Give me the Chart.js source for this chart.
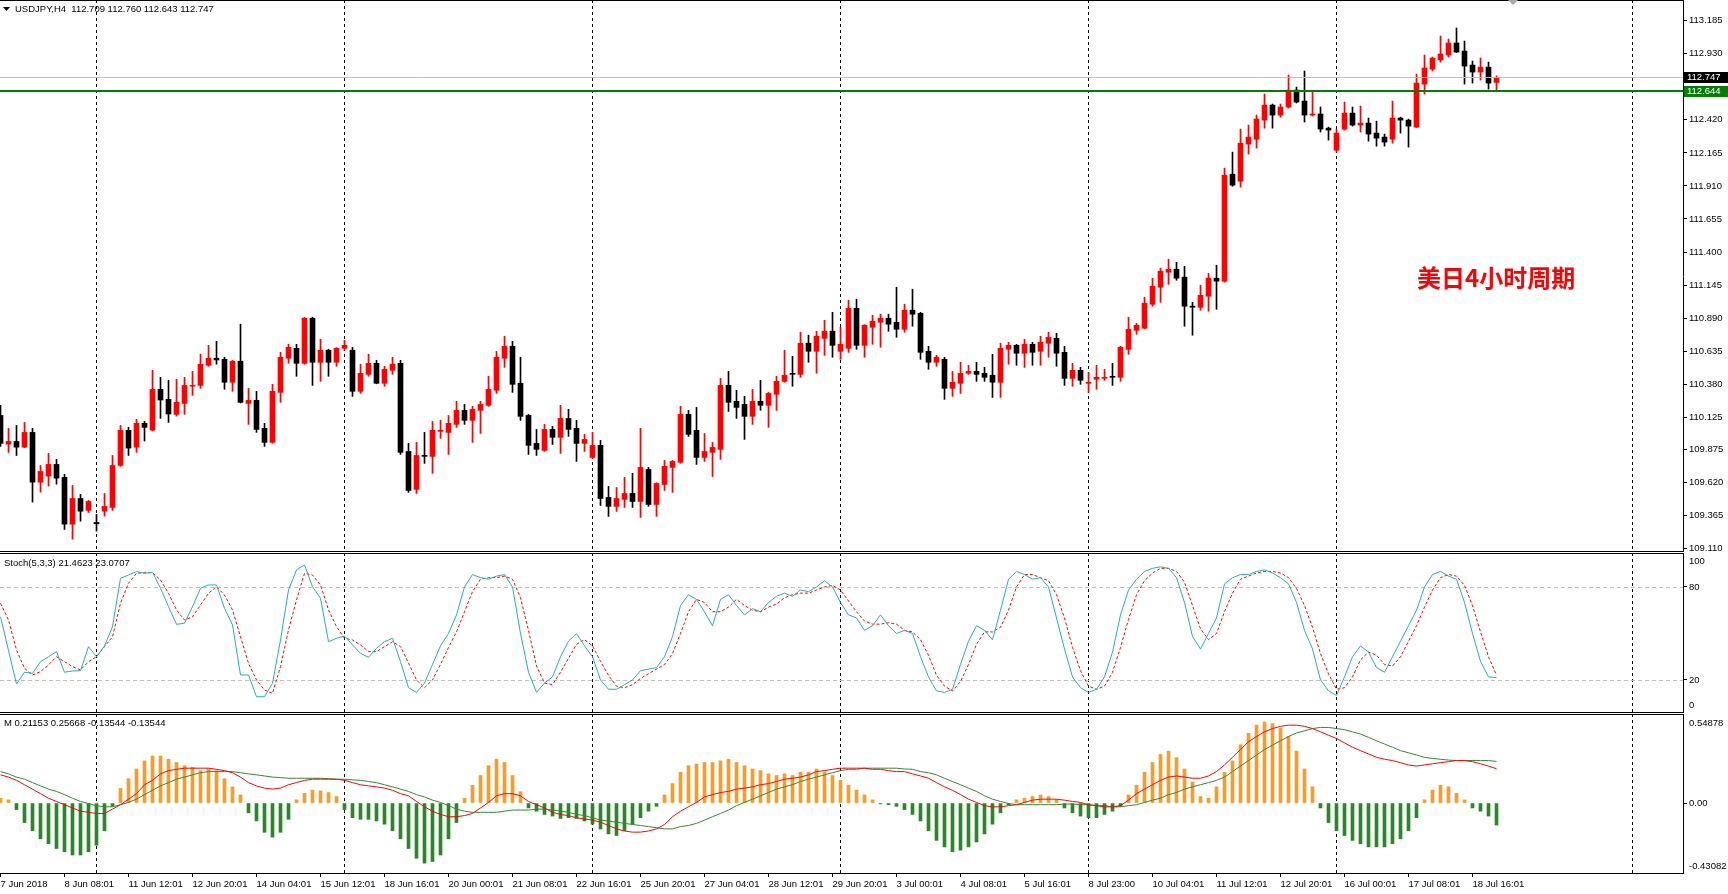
<!DOCTYPE html>
<html>
<head>
<meta charset="utf-8">
<script src="https://cdn.jsdelivr.net/npm/chart.js@4.4.1/dist/chart.umd.min.js"></script>
<style>
html, body { margin: 0; padding: 0; background: #fff; }
#wrap { position: relative; width: 1728px; height: 894px; overflow: hidden; background: #fff; }
#wrap canvas { position: absolute; left: 0; }
</style>
</head>
<body>
<div id="wrap">
  <canvas id="cMain" width="1728" height="552" style="top:0"></canvas>
  <canvas id="cStoch" width="1728" height="160" style="top:553px"></canvas>
  <canvas id="cMacd" width="1728" height="180" style="top:714px"></canvas>
</div>
<script>
// ---------------- DATA ----------------
const symbolTitle = "USDJPY,H4  112.709 112.760 112.643 112.747";
const noteText = "美日4小时周期";

const open = [
  110.139,109.918,109.938,109.894,110.008,109.624,109.671,109.761,109.661,109.300,
  109.498,109.406,109.313,109.400,109.429,109.753,110.024,109.894,110.078,110.026,
  110.340,110.263,110.147,110.232,110.364,110.371,110.526,110.580,110.572,110.395,
  110.557,110.232,110.255,110.039,109.931,110.317,110.580,110.657,110.541,110.889,
  110.549,110.642,110.549,110.657,110.642,110.325,110.456,110.541,110.387,110.487,
  110.541,109.861,109.568,109.830,109.823,110.016,110.008,110.070,110.178,110.101,
  110.178,110.217,110.333,110.580,110.673,110.387,110.139,109.923,109.869,110.031,
  109.970,110.116,110.039,109.923,109.815,109.908,109.506,109.437,109.491,109.537,
  109.475,109.722,109.452,109.606,109.738,109.777,110.147,110.024,109.815,109.854,
  109.877,110.371,110.248,110.224,110.132,110.248,110.217,110.302,110.402,110.464,
  110.456,110.696,110.634,110.734,110.789,110.634,110.657,110.966,110.680,110.819,
  110.858,110.889,110.858,110.804,110.951,110.927,110.634,110.549,110.572,110.348,
  110.387,110.464,110.479,110.464,110.449,110.395,110.650,110.680,110.619,110.688,
  110.634,110.696,110.734,110.626,110.425,110.487,110.387,110.418,110.425,110.441,
  110.433,110.649,110.796,110.812,110.997,111.128,111.244,111.267,111.206,110.982,
  110.974,111.059,111.198,111.175,112.001,111.947,112.233,112.271,112.418,112.534,
  112.457,112.519,112.650,112.565,112.457,112.465,112.356,112.186,112.349,112.472,
  112.380,112.395,112.318,112.287,112.271,112.434,112.418,112.364,112.696,112.812,
  112.882,112.920,113.013,112.951,112.843,112.789,112.827,112.709
];
const high = [
  110.217,110.039,110.062,110.085,110.039,109.753,109.846,109.800,109.684,109.599,
  109.529,109.483,109.375,109.537,109.830,110.062,110.047,110.109,110.093,110.487,
  110.433,110.410,110.418,110.433,110.479,110.611,110.680,110.711,110.588,110.564,
  110.843,110.348,110.325,110.078,110.379,110.626,110.688,110.688,110.895,110.897,
  110.727,110.650,110.662,110.719,110.665,110.534,110.611,110.564,110.518,110.588,
  110.564,109.923,109.931,110.008,110.093,110.101,110.139,110.248,110.224,110.209,
  110.248,110.441,110.634,110.750,110.711,110.588,110.147,110.031,110.070,110.054,
  110.217,110.186,110.101,109.993,110.008,109.946,109.591,109.583,109.661,109.692,
  110.039,109.738,109.620,109.792,109.792,110.209,110.178,110.201,110.000,109.931,
  110.425,110.479,110.333,110.286,110.340,110.410,110.317,110.441,110.642,110.595,
  110.781,110.758,110.789,110.873,110.935,110.819,111.028,111.036,110.840,110.912,
  110.920,110.920,111.128,110.997,111.113,110.935,110.672,110.603,110.588,110.479,
  110.549,110.526,110.549,110.510,110.611,110.696,110.703,110.688,110.727,110.703,
  110.750,110.781,110.773,110.672,110.541,110.510,110.472,110.526,110.495,110.541,
  110.673,110.897,110.850,111.051,111.198,111.275,111.345,111.321,111.290,111.012,
  111.144,111.236,111.298,112.047,112.171,112.349,112.380,112.457,112.619,112.542,
  112.542,112.766,112.673,112.797,112.634,112.519,112.364,112.349,112.557,112.519,
  112.526,112.434,112.410,112.310,112.565,112.441,112.426,112.773,112.920,112.905,
  113.067,113.044,113.129,113.028,112.874,112.897,112.866,112.760
];
const low = [
  109.900,109.854,109.830,109.890,109.470,109.547,109.594,109.609,109.259,109.184,
  109.323,109.390,109.246,109.362,109.406,109.746,109.830,109.854,109.941,110.020,
  110.116,110.085,110.134,110.147,110.294,110.348,110.518,110.534,110.341,110.325,
  110.235,110.070,110.008,109.900,109.925,110.240,110.541,110.441,110.534,110.371,
  110.402,110.441,110.518,110.642,110.286,110.309,110.441,110.383,110.364,110.456,
  109.838,109.545,109.537,109.769,109.692,109.962,109.838,110.047,110.070,109.931,
  110.000,110.209,110.309,110.510,110.317,110.101,109.838,109.830,109.862,109.915,
  109.846,109.977,109.784,109.861,109.807,109.444,109.360,109.398,109.429,109.429,
  109.352,109.437,109.360,109.560,109.545,109.770,109.977,109.761,109.784,109.668,
  109.800,110.170,110.116,109.954,110.070,110.178,110.047,110.178,110.395,110.364,
  110.433,110.549,110.464,110.603,110.588,110.572,110.626,110.649,110.588,110.688,
  110.665,110.788,110.742,110.781,110.827,110.572,110.495,110.518,110.263,110.286,
  110.309,110.456,110.402,110.402,110.278,110.278,110.534,110.526,110.510,110.526,
  110.526,110.588,110.518,110.371,110.364,110.379,110.317,110.341,110.410,110.371,
  110.402,110.611,110.765,110.807,110.982,111.012,111.151,111.182,110.827,110.758,
  110.951,110.943,110.958,111.167,111.908,111.901,112.156,112.202,112.356,112.356,
  112.441,112.511,112.550,112.403,112.450,112.326,112.264,112.171,112.341,112.372,
  112.326,112.256,112.217,112.217,112.240,112.318,112.210,112.360,112.619,112.797,
  112.866,112.905,112.940,112.696,112.704,112.727,112.658,112.643
];
const close = [
  109.923,109.938,109.894,110.008,109.624,109.707,109.761,109.655,109.300,109.498,
  109.400,109.475,109.303,109.437,109.753,110.024,109.887,110.078,110.047,110.340,
  110.258,110.150,110.240,110.371,110.371,110.534,110.580,110.567,110.395,110.557,
  110.240,110.255,110.031,109.931,110.325,110.588,110.665,110.541,110.889,110.549,
  110.642,110.549,110.657,110.680,110.325,110.464,110.541,110.387,110.495,110.534,
  109.854,109.560,109.830,109.823,110.024,110.024,110.078,110.178,110.101,110.186,
  110.224,110.340,110.588,110.673,110.379,110.132,109.908,109.877,110.031,109.970,
  110.116,110.031,109.923,109.954,109.908,109.498,109.437,109.498,109.537,109.475,
  109.738,109.452,109.614,109.746,109.784,110.147,109.993,109.815,109.861,109.892,
  110.371,110.240,110.201,110.132,110.248,110.217,110.309,110.402,110.449,110.456,
  110.696,110.634,110.750,110.789,110.680,110.688,110.966,110.680,110.835,110.866,
  110.889,110.843,110.804,110.951,110.920,110.626,110.549,110.588,110.348,110.395,
  110.464,110.479,110.456,110.433,110.395,110.657,110.680,110.619,110.688,110.626,
  110.703,110.742,110.619,110.425,110.487,110.410,110.395,110.433,110.433,110.433,
  110.665,110.804,110.835,111.005,111.136,111.252,111.267,111.198,110.982,110.974,
  111.066,111.198,111.175,111.993,111.916,112.240,112.287,112.426,112.534,112.457,
  112.519,112.650,112.557,112.457,112.465,112.349,112.341,112.318,112.472,112.380,
  112.395,112.310,112.279,112.248,112.434,112.418,112.372,112.704,112.820,112.897,
  112.928,113.013,112.943,112.835,112.789,112.827,112.704,112.747
];

const stochMain = [
  60.8,39,17.4,25,24.3,31.8,35,38.3,25,25.8,
  26,41.5,35,41.9,54.4,85.6,87.7,89.9,88.8,89.5,
  79.2,67.3,55.9,56.6,67.3,79.2,81.3,81.3,66.2,55.5,
  23.2,23.2,9.2,9.2,17.9,45.8,78,91,94.2,80.2,
  72.7,44.7,46.9,48.4,42.6,37.2,34.6,40.4,44.7,46.9,
  31.8,15,12,18,30,42,50,62,80,88,
  86,85,87,88,80,50,25,12,18,22,
  35,45,50,42,35,20,14,14,17,20,
  26,27,28,35,48,68,75,72,64,55,
  72,75,68,62,66,64,70,74,76,74,
  78,77,80,84,80,70,62,60,52,55,
  62,55,50,52,50,35,22,13,12,14,
  30,45,55,52,46,65,85,90,88,85,
  86,80,60,40,22,15,12,14,22,38,
  62,78,85,90,92,93,92,86,70,48,
  40,50,60,82,86,88,88,90,91,89,
  86,82,70,52,40,20,13,10,22,35,
  42,38,28,25,35,45,55,65,80,88,
  90,87,85,70,50,32,22,21.46
];
const stochSignal = [
  69.5,58.7,39.4,27.5,23.2,25.4,29.7,35,31.8,28.6,
  26.5,31.8,35,41.5,47.9,69.5,82.4,88.8,89.2,89.2,
  84.5,75.9,65.2,58.7,60.8,68.4,75.9,80.2,74.8,65.2,
  47.9,30.8,20,13.5,11.4,28.6,52.3,71.6,88.8,87.7,
  81.3,65.2,54.4,46.9,45.8,42.6,38.3,38.3,41.5,44.7,
  41.5,31,20,15,20,30,41,51,64,77,
  85,86,86,87,85,73,52,29,18,17,
  25,34,43,46,42,32,23,16,15,17,
  21,24,27,30,37,50,64,72,70,64,
  64,67,72,68,65,64,67,69,73,75,
  76,76,78,80,81,78,71,64,58,56,
  56,57,56,52,51,46,36,23,16,13,
  19,30,43,51,51,54,65,80,88,88,
  86,84,75,60,41,26,16,14,16,25,
  41,59,75,84,89,92,92,90,83,68,
  53,46,50,64,76,85,87,89,90,90,
  89,86,79,68,54,37,24,14,15,22,
  33,38,36,30,29,35,45,55,67,78,
  86,88,87,81,68,51,35,23.07
];
const stochLevels = [20, 80];

const macdHist = [
  0.03,0.02,-0.04,-0.12,-0.17,-0.22,-0.25,-0.28,-0.30,-0.32,
  -0.32,-0.30,-0.26,-0.17,-0.02,0.09,0.15,0.21,0.26,0.29,
  0.29,0.27,0.25,0.23,0.22,0.20,0.21,0.20,0.15,0.10,
  0.05,-0.06,-0.11,-0.18,-0.21,-0.18,-0.10,0.02,0.06,0.08,
  0.075,0.065,0.04,-0.04,-0.09,-0.10,-0.10,-0.11,-0.13,-0.17,
  -0.22,-0.28,-0.34,-0.37,-0.36,-0.32,-0.22,-0.12,0.03,0.11,
  0.17,0.23,0.27,0.25,0.17,0.07,-0.03,-0.05,-0.07,-0.08,
  -0.095,-0.09,-0.095,-0.11,-0.13,-0.16,-0.19,-0.20,-0.17,-0.13,
  -0.09,-0.05,-0.02,0.05,0.12,0.19,0.23,0.24,0.25,0.25,
  0.26,0.27,0.25,0.23,0.21,0.20,0.18,0.17,0.18,0.17,
  0.19,0.19,0.21,0.19,0.17,0.14,0.11,0.08,0.05,0.02,
  -0.005,-0.01,-0.02,-0.04,-0.07,-0.11,-0.17,-0.23,-0.27,-0.30,
  -0.29,-0.27,-0.24,-0.19,-0.13,-0.06,-0.01,0.02,0.03,0.04,
  0.05,0.04,0.02,-0.03,-0.06,-0.08,-0.09,-0.09,-0.07,-0.05,
  -0.02,0.05,0.11,0.19,0.25,0.30,0.32,0.28,0.21,0.13,
  0.04,0.03,0.10,0.19,0.26,0.36,0.43,0.48,0.50,0.49,
  0.46,0.41,0.32,0.21,0.10,-0.03,-0.12,-0.17,-0.20,-0.23,
  -0.25,-0.27,-0.27,-0.27,-0.25,-0.22,-0.17,-0.09,0.02,0.08,
  0.11,0.10,0.06,0.02,-0.03,-0.05,-0.08,-0.13544
];
const macdRed = [
  0.174,0.16,0.14,0.113,0.086,0.058,0.03,0.01,-0.01,-0.03,
  -0.05,-0.057,-0.064,-0.064,-0.037,-0.01,0.024,0.058,0.113,0.14,
  0.18,0.20,0.208,0.215,0.215,0.215,0.215,0.208,0.20,0.187,
  0.16,0.126,0.106,0.092,0.086,0.092,0.113,0.126,0.14,0.147,
  0.147,0.147,0.147,0.14,0.126,0.113,0.106,0.10,0.092,0.079,
  0.058,0.045,0.01,-0.023,-0.05,-0.07,-0.084,-0.084,-0.077,-0.064,
  -0.03,0.004,0.045,0.058,0.058,0.045,0.01,-0.01,-0.03,-0.057,
  -0.07,-0.077,-0.091,-0.098,-0.105,-0.118,-0.138,-0.159,-0.172,-0.179,
  -0.179,-0.172,-0.159,-0.132,-0.084,-0.05,-0.023,0.004,0.038,0.052,
  0.065,0.072,0.086,0.092,0.10,0.113,0.12,0.133,0.147,0.153,
  0.16,0.174,0.194,0.20,0.208,0.215,0.215,0.215,0.215,0.208,
  0.208,0.20,0.194,0.194,0.18,0.167,0.153,0.126,0.10,0.079,
  0.052,0.024,0.004,-0.016,-0.023,-0.023,-0.016,-0.01,0.004,0.018,
  0.024,0.024,0.024,0.018,0.01,0.004,-0.01,-0.016,-0.023,-0.023,
  -0.016,0.018,0.058,0.086,0.113,0.14,0.16,0.167,0.16,0.153,
  0.153,0.167,0.194,0.235,0.282,0.33,0.378,0.41,0.439,0.459,
  0.473,0.48,0.48,0.473,0.459,0.439,0.418,0.398,0.371,0.344,
  0.323,0.303,0.282,0.27,0.262,0.249,0.235,0.228,0.235,0.242,
  0.249,0.255,0.262,0.262,0.255,0.242,0.228,0.21153
];
const macdGreen = [
  0.194,0.18,0.16,0.147,0.126,0.106,0.086,0.072,0.052,0.03,
  0.01,-0.003,-0.016,-0.023,-0.023,-0.01,0.004,0.024,0.052,0.079,
  0.106,0.126,0.147,0.16,0.174,0.187,0.194,0.194,0.194,0.194,
  0.187,0.18,0.174,0.167,0.16,0.157,0.153,0.153,0.153,0.153,
  0.153,0.15,0.147,0.147,0.143,0.14,0.133,0.126,0.113,0.10,
  0.086,0.072,0.052,0.038,0.018,0.004,-0.016,-0.037,-0.05,-0.057,
  -0.057,-0.057,-0.057,-0.05,-0.043,-0.043,-0.043,-0.037,-0.037,-0.043,
  -0.05,-0.057,-0.07,-0.077,-0.091,-0.105,-0.111,-0.118,-0.125,-0.132,
  -0.138,-0.145,-0.152,-0.159,-0.159,-0.145,-0.138,-0.125,-0.105,-0.084,
  -0.064,-0.043,-0.016,0.004,0.024,0.045,0.065,0.086,0.10,0.113,
  0.133,0.147,0.16,0.174,0.187,0.20,0.208,0.208,0.215,0.215,
  0.215,0.215,0.215,0.21,0.208,0.194,0.187,0.174,0.153,0.133,
  0.113,0.092,0.072,0.045,0.024,0.01,-0.003,-0.01,-0.01,-0.01,
  -0.01,-0.01,-0.01,-0.006,-0.006,-0.01,-0.01,-0.016,-0.016,-0.023,
  -0.023,-0.016,-0.01,0.004,0.018,0.03,0.052,0.065,0.086,0.10,
  0.113,0.126,0.14,0.16,0.194,0.228,0.262,0.296,0.33,0.357,
  0.384,0.41,0.432,0.445,0.459,0.466,0.466,0.459,0.452,0.439,
  0.425,0.405,0.384,0.364,0.344,0.323,0.31,0.296,0.282,0.275,
  0.27,0.265,0.262,0.262,0.262,0.262,0.262,0.25668
];

const priceTicks = [113.185,112.930,112.420,112.165,111.910,111.655,111.400,111.145,
                    110.890,110.635,110.380,110.125,109.875,109.620,109.365,109.110];
const bidPrice = 112.747;
const linePrice = 112.644;
const stochAxisLabels = ["100", "80", "20", "0"];
const macdAxisLabels = ["0.54878", "0.00", "-0.43082"];
const stochTitle = "Stoch(5,3,3) 21.4623 23.0707";
const macdTitle = "M 0.21153 0.25668 -0.13544 -0.13544";

const timeTickBars = [0,8,16,24,32,40,48,56,64,72,80,88,96,104,112,120,128,136,144,152,160,168,176,184];
const timeLabels = ["7 Jun 2018","8 Jun 08:01","11 Jun 12:01","12 Jun 20:01","14 Jun 04:01","15 Jun 12:01",
  "18 Jun 16:01","20 Jun 00:01","21 Jun 08:01","22 Jun 16:01","25 Jun 20:01","27 Jun 04:01","28 Jun 12:01",
  "29 Jun 20:01","3 Jul 00:01","4 Jul 08:01","5 Jul 16:01","8 Jul 23:00","10 Jul 04:01","11 Jul 12:01",
  "12 Jul 20:01","16 Jul 00:01","17 Jul 08:01","18 Jul 16:01"];
const separatorBars = [12, 43, 74, 105, 136, 167, 204];

// ---------------- SETUP ----------------
Chart.defaults.animation = false;
Chart.defaults.font.family = "'Liberation Sans', Arial, sans-serif";
Chart.defaults.font.size = 9.5;
Chart.defaults.color = "#000";

const FONT = "9.5px 'Liberation Sans', Arial, sans-serif";
const X_MIN = -0.0625, X_MAX = 210.3125;   // 8px per bar over a 1683px plot
const AXIS_W = 45;
const STOCH_MIN = -1.3, STOCH_MAX = 101.9, STOCH_H = 160;
const MACD_MIN = -0.43082, MACD_MAX = 0.54878, MACD_H = 159;

const idx = open.map((v, i) => i);
const UP = "#ff0000", DOWN = "#000000";
const candleColors = close.map((c, i) => c > open[i] ? UP : DOWN);

function xAxis(show) {
  return {
    type: "linear", min: X_MIN, max: X_MAX, display: show, offset: false,
    afterBuildTicks: s => { s.ticks = timeTickBars.map(v => ({ value: v })); },
    afterFit: s => { s.height = show ? 21 : 0; s.paddingLeft = 0; s.paddingRight = 0; },
    ticks: { autoSkip: false, maxRotation: 0, minRotation: 0, align: "start", padding: 2,
             callback: (v, i) => timeLabels[i] },
    grid: { display: true, drawOnChartArea: false, drawTicks: true, tickLength: 4, tickColor: "#000", offset: false },
    border: { display: true, color: "#000" }
  };
}

function yAxis(min, max, buildVals, labelFn, hideEdgeTicks) {
  return {
    type: "linear", position: "right", min, max,
    afterBuildTicks: s => { s.ticks = buildVals().map(v => ({ value: v })); },
    afterFit: s => { s.width = AXIS_W; s.paddingTop = 0; s.paddingBottom = 0; },
    ticks: { autoSkip: false, padding: 2, callback: labelFn },
    grid: {
      drawOnChartArea: false, drawTicks: true, tickLength: 4,
      tickColor: ctx => (hideEdgeTicks && (ctx.index === 0 || ctx.index === ctx.scale.ticks.length - 1)) ? "rgba(0,0,0,0)" : "#000"
    },
    border: { display: true, color: "#000" }
  };
}

function drawSeparators(chart) {
  const { ctx, chartArea, scales } = chart;
  ctx.save();
  ctx.strokeStyle = "#000";
  ctx.lineWidth = 1;
  ctx.setLineDash([3, 3]);
  separatorBars.forEach(b => {
    const x = scales.x.getPixelForValue(b);
    ctx.beginPath();
    ctx.moveTo(x, chartArea.top);
    ctx.lineTo(x, chartArea.bottom);
    ctx.stroke();
  });
  ctx.restore();
}

function drawFrame(chart, bottomLine) {
  const { ctx, chartArea } = chart;
  ctx.save();
  ctx.strokeStyle = "#000";
  ctx.lineWidth = 1;
  ctx.beginPath();
  ctx.moveTo(0, chartArea.top + 0.5);
  ctx.lineTo(chartArea.right + 1, chartArea.top + 0.5);
  if (bottomLine) {
    ctx.moveTo(0, chartArea.bottom - 0.5);
    ctx.lineTo(chartArea.right + 1, chartArea.bottom - 0.5);
  }
  ctx.stroke();
  ctx.restore();
}

function drawTitle(chart, text, y) {
  const ctx = chart.ctx;
  ctx.save();
  ctx.font = FONT;
  ctx.fillStyle = "#000";
  ctx.textBaseline = "middle";
  ctx.fillText(text, 4, y);
  ctx.restore();
}

const commonOpts = {
  responsive: false,
  animation: false,
  events: [],
  layout: { padding: 0, autoPadding: false },
  plugins: { legend: { display: false }, tooltip: { enabled: false } }
};

// ---------------- MAIN (CANDLES) ----------------
const mainDecor = {
  id: "mainDecor",
  beforeDatasetsDraw(chart) { drawSeparators(chart); },
  afterDatasetsDraw(chart) {
    const { ctx, chartArea, scales: { y } } = chart;
    ctx.save();
    const yb = y.getPixelForValue(bidPrice);
    ctx.strokeStyle = "#c0c0c0"; ctx.lineWidth = 1;
    ctx.beginPath(); ctx.moveTo(0, Math.round(yb) + 0.5); ctx.lineTo(chartArea.right, Math.round(yb) + 0.5); ctx.stroke();
    const yl = y.getPixelForValue(linePrice);
    ctx.strokeStyle = "#008000"; ctx.lineWidth = 2;
    ctx.beginPath(); ctx.moveTo(0, Math.round(yl)); ctx.lineTo(chartArea.right, Math.round(yl)); ctx.stroke();

    ctx.font = "bold 24px 'Noto Sans CJK SC', sans-serif";
    ctx.fillStyle = "#ff0000";
    ctx.textBaseline = "middle";
    ctx.fillText(noteText, 1417, 278);
    ctx.restore();
  },
  afterDraw(chart) {
    const { ctx, chartArea, scales: { y } } = chart;
    drawFrame(chart, true);
    ctx.save();
    // price tags on the axis
    const yb = Math.round(y.getPixelForValue(bidPrice));
    const yl = Math.round(y.getPixelForValue(linePrice));
    ctx.font = FONT;
    ctx.textBaseline = "middle";
    ctx.fillStyle = "#000"; ctx.fillRect(chartArea.right + 1, yb - 5, 44, 11);
    ctx.fillStyle = "#fff"; ctx.fillText(bidPrice.toFixed(3), chartArea.right + 4, yb + 0.5);
    ctx.fillStyle = "#008000"; ctx.fillRect(chartArea.right + 1, yl - 5, 44, 11);
    ctx.fillStyle = "#fff"; ctx.fillText(linePrice.toFixed(3), chartArea.right + 4, yl + 0.5);
    // header
    ctx.fillStyle = "#000";
    ctx.beginPath(); ctx.moveTo(3, 7); ctx.lineTo(10, 7); ctx.lineTo(6.5, 11); ctx.closePath(); ctx.fill();
    ctx.fillText(symbolTitle, 15, 9);
    // chart shift marker
    ctx.fillStyle = "#a9a9a9";
    ctx.beginPath(); ctx.moveTo(1508, 0); ctx.lineTo(1518, 0); ctx.lineTo(1513, 5); ctx.closePath(); ctx.fill();
    ctx.restore();
  }
};

new Chart(document.getElementById("cMain"), {
  type: "bar",
  data: {
    datasets: [
      { label: "body", order: 0, grouped: false, barThickness: 5, minBarLength: 1,
        data: idx.map(i => ({ x: i, y: [open[i], close[i]] })),
        backgroundColor: candleColors, borderWidth: 0 },
      { label: "wick", order: 1, grouped: false, barThickness: 1,
        data: idx.map(i => ({ x: i, y: [low[i], high[i]] })),
        backgroundColor: candleColors, borderWidth: 0 }
    ]
  },
  options: Object.assign({}, commonOpts, {
    scales: {
      x: xAxis(false),
      y: yAxis(109.085, 113.345, () => priceTicks, v => v.toFixed(3), false)
    }
  }),
  plugins: [mainDecor]
});

// ---------------- STOCHASTIC ----------------
const stochDecor = {
  id: "stochDecor",
  beforeDatasetsDraw(chart) {
    const { ctx, chartArea, scales: { y } } = chart;
    drawSeparators(chart);
    ctx.save();
    ctx.strokeStyle = "#c0c0c0"; ctx.lineWidth = 1; ctx.setLineDash([4, 3]);
    stochLevels.forEach(l => {
      const py = Math.round(y.getPixelForValue(l)) + 0.5;
      ctx.beginPath(); ctx.moveTo(0, py); ctx.lineTo(chartArea.right, py); ctx.stroke();
    });
    ctx.restore();
  },
  afterDraw(chart) {
    drawFrame(chart, true);
    drawTitle(chart, stochTitle, 10);
  }
};

const stochPx = (STOCH_MAX - STOCH_MIN) / STOCH_H;
new Chart(document.getElementById("cStoch"), {
  type: "line",
  data: {
    datasets: [
      { data: idx.map(i => ({ x: i, y: stochMain[i] })), borderColor: "#20b2aa", borderWidth: 1,
        pointRadius: 0, tension: 0, fill: false },
      { data: idx.map(i => ({ x: i, y: stochSignal[i] })), borderColor: "#ff0000", borderWidth: 1,
        borderDash: [3, 2], pointRadius: 0, tension: 0, fill: false }
    ]
  },
  options: Object.assign({}, commonOpts, {
    scales: {
      x: xAxis(false),
      y: yAxis(STOCH_MIN, STOCH_MAX,
        () => [STOCH_MAX - 8 * stochPx, 80, 20, STOCH_MIN + 8 * stochPx],
        (v, i) => stochAxisLabels[i], true)
    }
  }),
  plugins: [stochDecor]
});

// ---------------- MACD ----------------
const macdDecor = {
  id: "macdDecor",
  beforeDatasetsDraw(chart) { drawSeparators(chart); },
  afterDraw(chart) {
    drawFrame(chart, false);
    drawTitle(chart, macdTitle, 9);
  }
};

const macdPx = (MACD_MAX - MACD_MIN) / MACD_H;
new Chart(document.getElementById("cMacd"), {
  type: "bar",
  data: {
    datasets: [
      { type: "line", order: 0, data: idx.map(i => ({ x: i, y: macdRed[i] })), borderColor: "#ff0000",
        borderWidth: 1, pointRadius: 0, tension: 0, fill: false },
      { type: "line", order: 0, data: idx.map(i => ({ x: i, y: macdGreen[i] })), borderColor: "#2e8b2e",
        borderWidth: 1, pointRadius: 0, tension: 0, fill: false },
      { type: "bar", order: 1, grouped: false, barThickness: 3,
        data: idx.map(i => ({ x: i, y: macdHist[i] })),
        backgroundColor: macdHist.map(v => v >= 0 ? "#ff9a1f" : "#228b22"), borderWidth: 0 }
    ]
  },
  options: Object.assign({}, commonOpts, {
    scales: {
      x: xAxis(true),
      y: yAxis(MACD_MIN, MACD_MAX,
        () => [MACD_MAX - 9 * macdPx, 0, MACD_MIN + 7 * macdPx],
        (v, i) => macdAxisLabels[i], true)
    }
  }),
  plugins: [macdDecor]
});
</script>
</body>
</html>
